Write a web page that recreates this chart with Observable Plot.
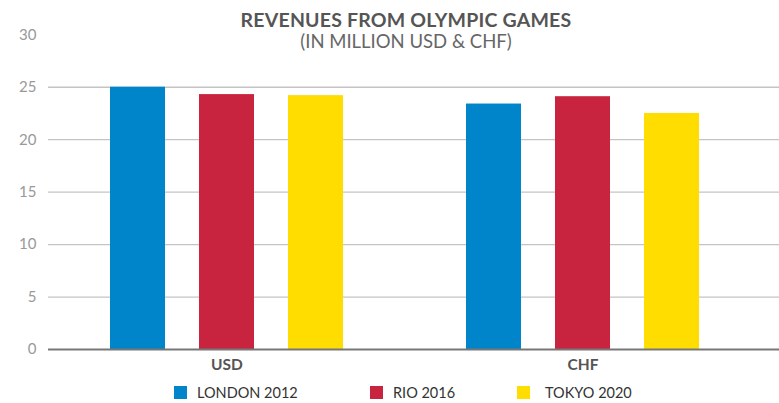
<!DOCTYPE html>
<html>
<head>
<meta charset="utf-8">
<script src="https://cdn.jsdelivr.net/npm/d3@7"></script>
<script src="https://cdn.jsdelivr.net/npm/@observablehq/plot@0.6"></script>
<style>
  html, body { margin: 0; padding: 0; background: #fff; }
  #wrap { position: relative; width: 779px; height: 403px; font-family: Lato, "Open Sans", sans-serif; }
  #title { position: absolute; left: 0; width: 812px; top: 10px; text-align: center; color: #555; }
  #title .t { font-weight: 700; font-size: 19.5px; line-height: 20px; height: 20px; letter-spacing: 0.2px; }
  #title .s { font-weight: 400; font-size: 18.5px; line-height: 19px; height: 19px; margin-top: 2px; color: #666; }
  #chart { position: absolute; left: 0; top: 0; }
  #legend { position: absolute; top: 384px; left: 0; width: 779px; height: 18px; font-size: 14.5px; color: #333; }
  .li { position: absolute; display: flex; align-items: center; top: 0; }
  .sw { width: 13px; height: 13px; display: inline-block; margin-right: 10px; }
</style>
</head>
<body>
<div id="wrap">
  <div id="chart"></div>
  <div id="title"><div class="t">REVENUES FROM OLYMPIC GAMES</div><div class="s">(IN MILLION USD &amp; CHF)</div></div>
  <div id="legend"></div>
</div>
<script>
const currencies = ["USD", "CHF"];
const games = ["LONDON 2012", "RIO 2016", "TOKYO 2020"];
const london = [25.0, 23.4];
const rio = [24.3, 24.1];
const tokyo = [24.2, 22.5];
const colors = ["#0085CA", "#C9243F", "#FFDD00"];
const yTicks = [0, 5, 10, 15, 20, 25, 30];
const gridTicks = [5, 10, 15, 20, 25];

const series = [london, rio, tokyo];
const rows = [];
currencies.forEach((c, i) => games.forEach((g, j) => rows.push({currency: c, game: g, key: c + "|" + g, value: series[j][i]})));

const xDomain = [];
currencies.forEach((c, i) => {
  if (i > 0) xDomain.push("gap" + i);
  games.forEach(g => xDomain.push(c + "|" + g));
});

const plot = Plot.plot({
  width: 779,
  height: 375,
  marginLeft: 48,
  marginRight: 0,
  marginTop: 34.3,
  marginBottom: 26,
  style: {fontFamily: "Lato, 'Open Sans', sans-serif", background: "transparent"},
  x: {domain: xDomain, paddingInner: 0.383, paddingOuter: 0.79, align: 0.433, axis: null, label: null},
  y: {domain: [0, 30], axis: null, label: null},
  color: {domain: games, range: colors},
  marks: [
    Plot.ruleY(gridTicks, {y: d => d, stroke: "#c4c4c4", strokeWidth: 1.3}),
    Plot.barY(rows, {x: "key", y: "value", fill: "game"}),
    Plot.ruleY([0], {stroke: "#777", strokeWidth: 2}),
    Plot.axisY({ticks: yTicks, tickSize: 0, tickPadding: 12, fontSize: 15, fill: "#999", color: "#999", label: null}),
    Plot.axisX({ticks: currencies.map(c => c + "|" + games[1]), tickFormat: d => d.split("|")[0], tickSize: 0, tickPadding: 9, fontSize: 15.5, fontWeight: "bold", fill: "#555", label: null})
  ]
});
document.getElementById("chart").appendChild(plot);

const legend = document.getElementById("legend");
const legendX = [174, 370, 517];
games.forEach((g, i) => {
  const d = document.createElement("div");
  d.className = "li";
  d.style.left = legendX[i] + "px";
  d.innerHTML = `<span class="sw" style="background:${colors[i]}"></span><span>${g}</span>`;
  if (i === 2) d.querySelector(".sw").style.marginRight = "15px";
  legend.appendChild(d);
});
</script>
</body>
</html>
